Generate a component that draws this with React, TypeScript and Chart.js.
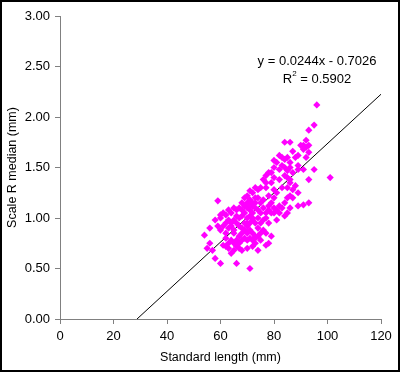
import React, { useEffect, useRef } from "react";
import { Chart, registerables } from "chart.js";

Chart.register(...registerables);

// Standard length (mm) and scale R median (mm) for each fish
const standardLength = [
  96, 95, 93, 92, 91, 92, 90, 93, 91, 89, 87, 86, 84, 83, 84, 85, 82, 80, 81, 83,
  84, 86, 88, 89, 91, 95, 101, 93, 87, 85, 86, 88, 85, 82, 80, 78, 77, 79, 76, 75,
  77, 74, 73, 72, 71, 80, 81, 80, 89, 87, 91, 89, 93, 86, 85, 84, 82, 80, 79, 81,
  78, 77, 76, 75, 74, 73, 72, 71, 70, 69, 68, 67, 66, 65, 64, 63, 62, 61, 59, 60,
  59, 60, 56, 54, 56, 55, 57, 58, 60, 66, 71, 64, 65, 67, 68, 70, 72, 74, 73, 75,
  77, 78, 77, 79, 76, 75, 74, 73, 72, 71, 70, 69, 68, 67, 66, 65, 64, 63, 62, 61,
  62, 63, 64, 65, 66, 67, 68, 69, 70, 71, 72, 73, 74, 75, 72, 71, 70, 69, 68, 67,
  66, 65, 64, 63, 62, 61, 70, 71, 72, 73, 74, 76, 78, 79, 80, 82, 83, 84, 85, 86,
  87, 83, 84, 85, 82, 80, 79, 86, 86, 89, 92, 93, 69, 68, 70, 71, 72, 73, 70, 69,
  68, 67, 66, 65, 63, 62, 70, 71, 72, 73, 74, 75, 76, 77, 78, 78, 81, 60, 58, 77,
];
const scaleRMedian = [
  2.12, 1.92, 1.87, 1.77, 1.72, 1.7, 1.72, 1.65, 1.68, 1.62, 1.66, 1.75, 1.75, 1.6, 1.58, 1.6, 1.62, 1.57, 1.55, 1.52,
  1.5, 1.55, 1.6, 1.48, 1.48, 1.48, 1.4, 1.38, 1.45, 1.4, 1.35, 1.32, 1.3, 1.38, 1.4, 1.45, 1.42, 1.35, 1.38, 1.3,
  1.3, 1.28, 1.3, 1.25, 1.27, 1.28, 1.25, 1.2, 1.25, 1.2, 1.13, 1.12, 1.15, 1.1, 1.05, 1.02, 1.12, 1.1, 1.05, 1.08,
  1.12, 1.05, 1.1, 1.15, 1.2, 1.15, 1.12, 1.18, 1.22, 1.2, 1.15, 1.1, 1.08, 1.1, 1.05, 1.08, 1.03, 1.05, 1.17, 1.0,
  0.92, 0.88, 0.9, 0.83, 0.75, 0.7, 0.68, 0.6, 0.55, 0.55, 0.5, 0.65, 0.68, 0.7, 0.68, 0.7, 0.72, 0.68, 0.75, 0.78,
  0.73, 0.75, 0.85, 0.82, 0.88, 0.85, 0.82, 0.8, 0.85, 0.88, 0.85, 0.8, 0.78, 0.82, 0.78, 0.75, 0.78, 0.75, 0.8, 0.73,
  0.85, 0.9, 0.92, 0.88, 0.95, 0.92, 0.9, 0.95, 0.92, 0.95, 0.98, 0.95, 1.0, 1.05, 1.05, 1.02, 1.0, 1.05, 1.02, 1.0,
  1.02, 0.98, 0.95, 0.98, 0.95, 0.92, 1.1, 1.08, 1.0, 1.1, 1.08, 1.18, 1.22, 1.15, 1.05, 1.05, 1.1, 1.15, 1.2, 1.22,
  1.28, 1.3, 1.42, 1.47, 1.48, 1.5, 1.45, 1.5, 1.38, 1.52, 1.6, 1.72, 1.12, 1.08, 1.15, 1.12, 1.15, 1.2, 0.95, 0.88,
  0.85, 0.75, 0.72, 0.85, 0.7, 0.72, 0.78, 0.8, 0.78, 0.82, 0.9, 0.95, 0.98, 1.0, 0.95, 1.08, 0.98, 1.03, 0.98, 1.35,
];

// Linear trend line reported on the chart
const trendSlope = 0.0244;
const trendIntercept = -0.7026;
const trendR2 = 0.5902;
const trendXEnd = 120;

const xTicks = [0, 20, 40, 60, 80, 100, 120];
const yTicks = [0, 0.5, 1, 1.5, 2, 2.5, 3];

const FONT = "'Liberation Sans', Arial, sans-serif";

export default function App() {
  const ref = useRef<HTMLCanvasElement | null>(null);

  useEffect(() => {
    const canvas = ref.current;
    if (!canvas) return;

    const points = standardLength.map((x, i) => ({ x, y: scaleRMedian[i] }));
    const xStart = -trendIntercept / trendSlope;
    const trend = [
      { x: xStart, y: 0 },
      { x: trendXEnd, y: trendSlope * trendXEnd + trendIntercept },
    ];

    const equationPlugin = {
      id: "equation",
      afterDatasetsDraw(chart: any) {
        const { ctx, scales } = chart;
        const cx = scales.x.getPixelForValue(96.1);
        const y1 = scales.y.getPixelForValue(2.555);
        const y2 = scales.y.getPixelForValue(2.377);
        ctx.save();
        ctx.fillStyle = "#000";
        ctx.textBaseline = "middle";
        ctx.textAlign = "center";
        ctx.font = `13px ${FONT}`;
        const sign = trendIntercept < 0 ? "-" : "+";
        ctx.fillText(
          `y = ${trendSlope.toFixed(4)}x ${sign} ${Math.abs(trendIntercept).toFixed(4)}`,
          cx,
          y1
        );
        const a = "R";
        const b = ` = ${trendR2.toFixed(4)}`;
        const wa = ctx.measureText(a).width;
        const wb = ctx.measureText(b).width;
        ctx.font = `8px ${FONT}`;
        const ws = ctx.measureText("2").width;
        const total = wa + ws + wb;
        let x0 = cx - total / 2;
        ctx.textAlign = "left";
        ctx.font = `13px ${FONT}`;
        ctx.fillText(a, x0, y2);
        ctx.font = `8px ${FONT}`;
        ctx.fillText("2", x0 + wa, y2 - 5);
        ctx.font = `13px ${FONT}`;
        ctx.fillText(b, x0 + wa + ws, y2);
        ctx.restore();
      },
    };

    const chart = new Chart(canvas, {
      type: "scatter",
      data: {
        datasets: [
          {
            type: "scatter",
            data: points,
            pointStyle: "rectRot",
            pointRadius: 3.6,
            pointBackgroundColor: "#FF00FF",
            pointBorderColor: "#FF00FF",
            pointBorderWidth: 0,
          },
          {
            type: "line",
            data: trend,
            borderColor: "#000",
            borderWidth: 1,
            pointRadius: 0,
            fill: false,
          } as any,
        ],
      },
      options: {
        animation: false,
        responsive: false,
        layout: { padding: { top: 16, right: 19, left: 0, bottom: 0 } },
        plugins: {
          legend: { display: false },
          tooltip: { enabled: false },
        },
        scales: {
          x: {
            type: "linear",
            min: 0,
            max: 120,
            afterBuildTicks: (s: any) => {
              s.ticks = xTicks.map((v) => ({ value: v }));
            },
            afterFit: (s: any) => {
              s.height = 53;
            },
            ticks: {
              color: "#000",
              font: { family: FONT, size: 13 },
              padding: 5,
              maxRotation: 0,
              callback: (v: any) => String(v),
            },
            grid: {
              drawOnChartArea: false,
              drawTicks: true,
              tickLength: 5,
              color: "#808080",
            },
            border: { color: "#808080", width: 1 },
            title: {
              display: true,
              text: "Standard length (mm)",
              color: "#000",
              font: { family: FONT, size: 12.5 },
              padding: { top: 0, bottom: 7 },
            },
          },
          y: {
            type: "linear",
            min: 0,
            max: 3,
            afterBuildTicks: (s: any) => {
              s.ticks = yTicks.map((v) => ({ value: v }));
            },
            afterFit: (s: any) => {
              s.width = 60;
            },
            ticks: {
              color: "#000",
              font: { family: FONT, size: 13 },
              padding: 5,
              callback: (v: any) => Number(v).toFixed(2),
            },
            grid: {
              drawOnChartArea: false,
              drawTicks: true,
              tickLength: 5,
              color: "#808080",
            },
            border: { color: "#808080", width: 1 },
            title: {
              display: true,
              text: "Scale R median (mm)",
              color: "#000",
              font: { family: FONT, size: 12.5 },
              padding: { top: 5, bottom: 0 },
            },
          },
        },
      },
      plugins: [equationPlugin],
    });

    return () => chart.destroy();
  }, []);

  return (
    <div style={{ position: "fixed", left: 0, top: 0, width: 400, height: 372, background: "#fff" }}>
      <canvas ref={ref} width={400} height={372} style={{ display: "block" }} />
      <div
        style={{
          position: "absolute",
          left: 0,
          top: 0,
          width: 400,
          height: 372,
          boxSizing: "border-box",
          border: "2px solid #000",
          pointerEvents: "none",
        }}
      />
    </div>
  );
}
